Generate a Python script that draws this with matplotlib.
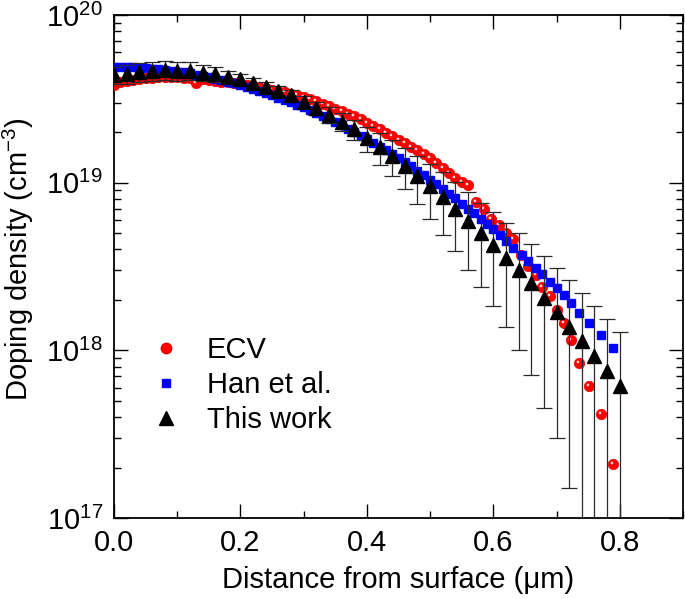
import numpy as np
import matplotlib
matplotlib.use("Agg")
import matplotlib.pyplot as plt
from matplotlib.lines import Line2D
from matplotlib.path import Path
from matplotlib.ticker import LogLocator, MultipleLocator, NullFormatter

plt.rcParams['font.family'] = ['Liberation Sans', 'DejaVu Sans']
plt.rcParams['mathtext.fontset'] = 'custom'
plt.rcParams['mathtext.rm'] = 'Liberation Sans'
plt.rcParams['mathtext.it'] = 'Liberation Sans:italic'
plt.rcParams['mathtext.default'] = 'regular'

# ---------------- data (doping density in units of 1e18 cm^-3) ----------------
ecv_x = [0.00, 0.01, 0.02, 0.03, 0.04, 0.05, 0.06, 0.07, 0.08, 0.09,
         0.10, 0.11, 0.12, 0.13, 0.14, 0.15, 0.16, 0.17, 0.18, 0.19,
         0.20, 0.21, 0.22, 0.23, 0.24, 0.25, 0.26, 0.27, 0.28, 0.29,
         0.30, 0.31, 0.32, 0.33, 0.34, 0.35, 0.36, 0.37, 0.38, 0.39,
         0.40, 0.41, 0.42, 0.43, 0.44, 0.45, 0.46, 0.47, 0.48, 0.49,
         0.50, 0.51, 0.52, 0.53, 0.54, 0.55, 0.56,
         0.573, 0.585, 0.596, 0.609, 0.620, 0.631, 0.644, 0.655, 0.667,
         0.677, 0.689, 0.701, 0.711, 0.723, 0.736, 0.752, 0.771, 0.790]
ecv_n = [38.5, 39.6, 40.6, 41.2, 41.7, 42.0, 42.3, 42.5, 42.6, 42.6,
         42.5, 42.3, 42.0, 39.4, 41.5, 41.0, 40.6, 40.1, 39.6, 39.2,
         38.7, 38.2, 37.7, 37.1, 36.5, 35.9, 35.2, 34.6, 34.0, 33.3,
         32.6, 31.6, 30.5, 29.5, 28.5, 27.5, 26.7, 25.8, 25.0, 24.0,
         22.8, 21.8, 20.8, 19.8, 18.9, 18.0, 17.2, 16.4, 15.7, 14.9,
         14.0, 13.1, 12.2, 11.4, 10.7, 10.1, 9.7,
         7.7, 7.0, 6.1, 5.6, 5.0, 4.6, 3.7, 3.2, 2.8,
         2.4, 2.1, 1.74, 1.45, 1.15, 0.84, 0.61, 0.42, 0.21]

han_x = [0.00, 0.01, 0.02, 0.03, 0.04, 0.05, 0.06, 0.07, 0.08, 0.09,
         0.10, 0.11, 0.12, 0.13, 0.14, 0.15, 0.16, 0.17, 0.18, 0.19,
         0.20, 0.21, 0.22, 0.23, 0.24, 0.25, 0.26, 0.27, 0.28, 0.29,
         0.30, 0.31, 0.32, 0.33, 0.34, 0.35, 0.36, 0.37, 0.38, 0.39,
         0.40, 0.41, 0.42, 0.43, 0.44, 0.45, 0.46, 0.47, 0.48, 0.49,
         0.50, 0.51, 0.52, 0.53, 0.54, 0.55, 0.56, 0.57, 0.58, 0.59,
         0.60, 0.61, 0.62,
         0.631, 0.646, 0.655, 0.667, 0.677, 0.689, 0.701, 0.711, 0.723,
         0.736, 0.752, 0.771, 0.790]
han_n = [49.0, 48.9, 48.9, 48.7, 48.5, 48.2, 47.9, 47.5, 47.1, 46.6,
         46.0, 45.5, 44.8, 44.1, 43.4, 42.6, 41.8, 41.0, 40.1, 39.2,
         38.2, 37.3, 36.3, 35.3, 34.3, 33.3, 32.2, 31.2, 30.1, 29.1,
         28.1, 27.0, 26.0, 25.0, 23.9, 22.9, 22.0, 21.0, 20.0, 19.1,
         18.2, 17.3, 16.4, 15.6, 14.8, 14.0, 13.2, 12.5, 11.8, 11.1,
         10.4, 9.8, 9.2, 8.6, 8.05, 7.5, 7.0, 6.55, 6.1, 5.7,
         5.3, 4.9, 4.5,
         4.1, 3.72, 3.42, 3.09, 2.86, 2.57, 2.34, 2.14, 1.91,
         1.66, 1.46, 1.24, 1.03]

work_x = [0.00, 0.02, 0.04, 0.06, 0.08, 0.10, 0.12, 0.14, 0.16, 0.18,
          0.20, 0.22, 0.24, 0.26, 0.28, 0.30, 0.32, 0.34, 0.36, 0.38,
          0.40, 0.42, 0.44, 0.46, 0.48, 0.50, 0.52, 0.54, 0.56, 0.58,
          0.60, 0.62, 0.64, 0.66, 0.68, 0.70, 0.72, 0.74, 0.76, 0.78, 0.80]
work_n = [43.9, 44.5, 45.7, 46.6, 47.0, 46.6, 46.6, 45.3, 44.5, 42.9,
          41.4, 39.5, 37.4, 35.4, 33.4, 30.4, 27.8, 25.4, 23.1, 20.8,
          18.4, 16.3, 14.4, 12.6, 11.0, 9.5, 8.2, 7.0, 5.9, 5.0,
          4.25, 3.57, 3.0, 2.51, 2.05, 1.70, 1.38, 1.14, 0.93, 0.75, 0.61]
work_err = [5.0, 5.5, 6.0, 6.0, 6.0, 6.0, 5.5, 5.0, 4.5, 3.5,
            3.0, 2.8, 2.6, 2.5, 2.5, 2.5, 2.6, 2.7, 2.8, 2.9,
            3.1, 3.5, 3.5, 3.45, 3.5, 3.4, 3.3, 3.1, 2.9, 2.6,
            2.4, 2.2, 2.0, 1.8, 1.6, 1.4, 1.23, 1.05, 0.91, 0.79, 0.67]

unit = 1e18
labels = ["ECV", "Han et al.", "This work"]

# ---------------- figure ----------------
fig = plt.figure(figsize=(6.85, 5.99), dpi=100)
ax = fig.add_axes([114/685, 1-518/599, (683-114)/685, (518-15)/599])

red = '#ff0000'
blue = '#0000ff'

ex = np.array(ecv_x); ey = np.array(ecv_n) * unit
hx = np.array(han_x); hy = np.array(han_n) * unit
wx = np.array(work_x); wy = np.array(work_n) * unit
we = np.array(work_err) * unit
we_low = np.where(we < wy, we, wy * 0.9999)

ax.plot(ex, ey, ls='none', marker='o', ms=7.5, mfc=red, mec='#e80000',
        mew=0.5, zorder=3)
# small highlight on the red balls
circ = Path.circle(center=(-0.3, 0.3), radius=0.26)
hl_verts = np.vstack([[[-1, -1], [1, 1]], circ.vertices])
hl_codes = np.concatenate([[Path.MOVETO, Path.MOVETO], circ.codes])
hl_path = Path(hl_verts, hl_codes)
ax.plot(ex, ey, ls='none', marker=hl_path, ms=7.5, mfc='#ffd6d6',
        mec='none', zorder=3.1)

ax.plot(hx, hy, ls='none', marker='s', ms=6, mfc=blue, mec=blue, zorder=4)

ax.errorbar(wx, wy, yerr=[we_low, we], fmt='none', ecolor='#2a2a2a',
            elinewidth=0.9, capsize=5.5, capthick=0.9, zorder=5)
ax.plot(wx, wy, ls='none', marker='^', ms=9.5, mfc='black', mec='black',
        zorder=6)

ax.set_yscale('log')
ax.set_xlim(0, 0.9)
ax.set_ylim(1e17, 1e20)

ax.xaxis.set_major_locator(MultipleLocator(0.2))
ax.xaxis.set_minor_locator(MultipleLocator(0.1))
ax.set_xticks([0.0, 0.2, 0.4, 0.6, 0.8])
ax.set_xticklabels(['0.0', '0.2', '0.4', '0.6', '0.8'])
ax.yaxis.set_major_locator(LogLocator(base=10, numticks=10))
ax.yaxis.set_minor_locator(LogLocator(base=10, subs=np.arange(2, 10), numticks=20))
ax.yaxis.set_minor_formatter(NullFormatter())

ax.tick_params(which='both', direction='in', top=True, right=True,
               labelsize=21, width=1.0, pad=8)
ax.tick_params(which='major', length=10)
ax.tick_params(which='minor', length=5)
for s in ax.spines.values():
    s.set_linewidth(1.3)

ax.set_xlabel('Distance from surface (\u03bcm)', fontsize=21)
ax.set_ylabel('Doping density (cm$^{-3}$)', fontsize=21)
ax.xaxis.set_label_coords(0.5, -0.095)
ax.yaxis.set_label_coords(-0.137, 0.515)

handles = [
    Line2D([], [], ls='none', marker='o', ms=7.5, mfc=red, mec='#e80000'),
    Line2D([], [], ls='none', marker='s', ms=6, mfc=blue, mec=blue),
    Line2D([], [], ls='none', marker='^', ms=9.5, mfc='black', mec='black'),
]
ax.legend(handles, labels, loc='upper left', bbox_to_anchor=(0.066, 0.362),
          frameon=False, fontsize=21, handlelength=1.0, handletextpad=0.9,
          labelspacing=0.25, borderpad=0, borderaxespad=0)

fig.savefig('out.png', dpi=100)
